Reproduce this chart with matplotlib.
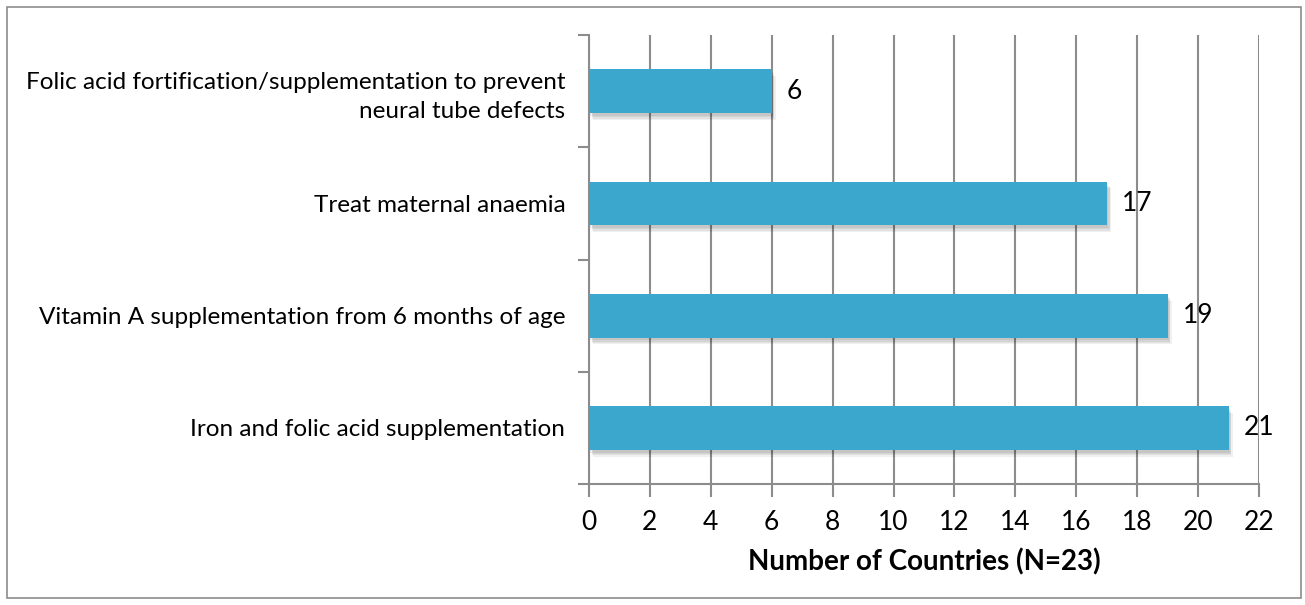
import matplotlib.pyplot as plt
import matplotlib.patheffects as pe
from matplotlib.patches import Rectangle

# ── Data ──────────────────────────────────────────────────────────────────────
CATEGORIES = [
    'Iron and folic acid supplementation',
    'Vitamin A supplementation from 6 months of age',
    'Treat maternal anaemia',
    'Folic acid fortification/supplementation to prevent\nneural tube defects',
]
COUNTS = [21, 19, 17, 6]
X_TICKS = list(range(0, 23, 2))

BAR_COLOR = '#3BA7CD'
GRID_COLOR = '#8C8C8C'

plt.rcParams['font.family'] = ['Lato', 'DejaVu Sans']

fig = plt.figure(figsize=(13.05, 6.05), dpi=100)
fig.patch.set_facecolor('white')

# outer frame
fig.patches.append(Rectangle((0.005, 0.012), 0.992, 0.976, transform=fig.transFigure,
                             fill=False, edgecolor='#8C8C8C', linewidth=1.2))

ax = fig.add_axes([0.4513, 0.2, 0.5135, 0.7421])
ypos = list(range(len(CATEGORIES)))
bars = ax.barh(ypos, COUNTS, height=0.39, color=BAR_COLOR, zorder=3)
# soft drop shadow, built from a few faint offset layers
shadow = [pe.SimplePatchShadow(offset=(dx, -dy), shadow_rgbFace='black', alpha=0.06)
          for dx, dy in [(1, 2), (2, 3), (2, 4), (3, 5)]]
for b in bars:
    b.set_path_effects(shadow + [pe.Normal()])

for y, v in zip(ypos, COUNTS):
    ax.text(v + 0.5, y, str(v), va='center', ha='left', fontsize=19, color='black')

ax.set_xlim(0, 22)
ax.set_ylim(-0.5, len(CATEGORIES) - 0.5)
ax.set_xticks(X_TICKS)
ax.set_xticklabels([str(t) for t in X_TICKS], fontsize=19)
ax.set_yticks(ypos)
ax.set_yticklabels(CATEGORIES, fontsize=17.5, linespacing=1.45)
ax.set_yticks([y - 0.5 for y in range(len(CATEGORIES) + 1)], minor=True)

ax.tick_params(axis='y', which='major', length=0, pad=17)
ax.tick_params(axis='y', which='minor', length=8, width=1.5, color=GRID_COLOR, direction='out')
ax.tick_params(axis='x', length=9, width=1.5, color=GRID_COLOR, direction='out', pad=10)

ax.grid(axis='x', color=GRID_COLOR, linewidth=1.5, zorder=0)
ax.set_axisbelow(True)
for s in ['top', 'right']:
    ax.spines[s].set_visible(False)
for s in ['left', 'bottom']:
    ax.spines[s].set_color(GRID_COLOR)
    ax.spines[s].set_linewidth(1.5)

ax.set_xlabel('Number of Countries (N=23)', fontsize=20, fontweight='bold', labelpad=9)

plt.savefig('out.png', dpi=100)
